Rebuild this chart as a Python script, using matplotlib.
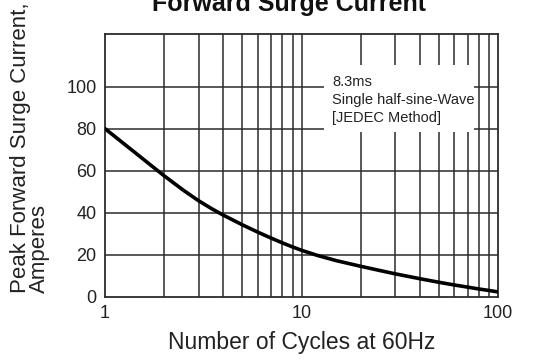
import matplotlib
matplotlib.use("Agg")
import matplotlib.pyplot as plt
from matplotlib.patches import Rectangle
from matplotlib.ticker import FixedLocator, NullFormatter

plt.rcParams["font.family"] = ["Liberation Sans", "DejaVu Sans"]

# curve (cycles, amperes)
cycles = [1, 1.25, 1.5, 1.75, 2, 2.5, 3, 3.5, 4, 5, 6, 7, 8, 9, 10,
          12, 15, 20, 25, 30, 40, 50, 60, 70, 80, 90, 100]
current = [80, 72.8, 66.9, 61.9, 57.6, 50.8, 45.7, 41.9, 38.9, 34.3, 30.8,
           28.0, 25.7, 23.8, 22.2, 19.8, 17.3, 14.6, 12.6, 11.0, 8.7, 7.0,
           5.7, 4.7, 3.8, 3.1, 2.4]

x_ticks = [1, 10, 100]
x_ticklabels = ["1", "10", "100"]
y_ticks = [0, 20, 40, 60, 80, 100]
minor_x = [m * d for d in (1, 10) for m in range(2, 10)]

note = "8.3ms\nSingle half-sine-Wave\n[JEDEC Method]"

GRID = "#2b2b2b"
TXT = "#222222"

fig = plt.figure(figsize=(5.48, 3.61), dpi=100)
ax = fig.add_axes([0.1916, 0.1773, 0.7172, 0.7285])

ax.set_xscale("log")
ax.set_xlim(1, 100)
ax.set_ylim(0, 125)

ax.plot(cycles, current, color="black", lw=2.6, zorder=4,
        solid_capstyle="round", solid_joinstyle="round")

ax.xaxis.set_major_locator(FixedLocator(x_ticks))
ax.xaxis.set_minor_locator(FixedLocator(minor_x))
ax.xaxis.set_minor_formatter(NullFormatter())
ax.set_xticklabels(x_ticklabels)
ax.set_yticks(y_ticks)

for v in minor_x + [10]:
    ax.axvline(v, color=GRID, lw=1.1, zorder=1)
for v in y_ticks[1:]:
    ax.axhline(v, color=GRID, lw=1.1, zorder=1)

for s in ax.spines.values():
    s.set_color(GRID)
    s.set_linewidth(1.3)

ax.tick_params(which="both", length=0, labelsize=13, pad=6, colors=TXT)

# white note box hiding the grid behind the text
ax.add_patch(Rectangle((13.0, 78.4), 75.5 - 13.0, 110.5 - 78.4,
                       facecolor="white", edgecolor="none", zorder=2))
# baseline of the last line ("[JEDEC Method]")
ax.text(14.3, 83.4, note, fontsize=10.5, va="baseline", ha="left", color=TXT,
        linespacing=1.32, zorder=3)

ax.set_xlabel("Number of Cycles at 60Hz", fontsize=16.5, color=TXT,
              labelpad=6)

fig.text(0.055, 1 - 293 / 361, "Peak Forward Surge Current,\nAmperes",
         rotation=90, ha="center", va="bottom", multialignment="left",
         fontsize=16, color=TXT, linespacing=0.9)

fig.text(0.527, 1 - 11 / 361, "Forward Surge Current", ha="center",
         va="baseline", fontsize=18, fontweight="bold", color="#111111")

fig.savefig("out.png", dpi=100)
